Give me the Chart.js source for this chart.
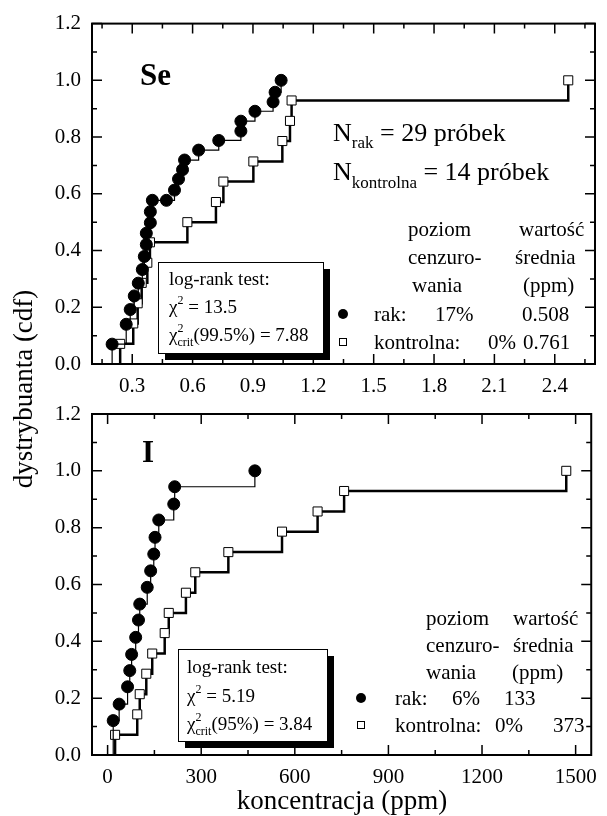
<!DOCTYPE html>
<html>
<head>
<meta charset="utf-8">
<script src="https://cdn.jsdelivr.net/npm/chart.js@4.4.0/dist/chart.umd.min.js"></script>
<style>
  html, body { margin: 0; padding: 0; background: #fff; }
  #wrap { position: relative; width: 607px; height: 816px; }
  canvas { position: absolute; left: 0; top: 0; }
</style>
</head>
<body>
<div id="wrap">
  <canvas id="se" width="607" height="816"></canvas>
  <canvas id="jod" width="607" height="816"></canvas>
</div>
<script>
// Se panel - rak (filled circles) and kontrolna (open squares)
const seRakX = [0.20, 0.27, 0.29, 0.31, 0.33, 0.35, 0.36, 0.37, 0.37, 0.39, 0.39, 0.40, 0.47, 0.51, 0.53, 0.55, 0.56, 0.63, 0.73, 0.84, 0.84, 0.91, 1.00, 1.01, 1.04];
const seRakY = [0.070, 0.140, 0.192, 0.240, 0.285, 0.333, 0.379, 0.421, 0.461, 0.498, 0.537, 0.577, 0.577, 0.613, 0.652, 0.685, 0.719, 0.754, 0.788, 0.821, 0.856, 0.891, 0.924, 0.958, 1.000];
const seKonX = [0.24, 0.305, 0.327, 0.347, 0.375, 0.388, 0.574, 0.716, 0.753, 0.902, 1.046, 1.084, 1.092, 2.467];
const seKonY = [0.071, 0.143, 0.214, 0.286, 0.357, 0.429, 0.500, 0.571, 0.643, 0.714, 0.786, 0.857, 0.929, 1.000];

// I panel
const iRakX = [18, 37, 64, 71, 77, 90, 99, 103, 127, 138, 148, 152, 164, 212, 215, 472];
const iRakY = [0.121, 0.179, 0.240, 0.297, 0.354, 0.414, 0.475, 0.531, 0.590, 0.648, 0.707, 0.766, 0.827, 0.883, 0.944, 1.000];
const iKonX = [24, 95, 103, 124, 143, 183, 196, 251, 281, 387, 559, 673, 758, 1470];
const iKonY = [0.071, 0.143, 0.214, 0.286, 0.357, 0.429, 0.500, 0.571, 0.643, 0.714, 0.786, 0.857, 0.929, 1.000];

// ticks
const seXTicks = [0.3, 0.6, 0.9, 1.2, 1.5, 1.8, 2.1, 2.4];
const seXMinor = [0.15, 0.45, 0.75, 1.05, 1.35, 1.65, 1.95, 2.25, 2.55];
const iXTicks = [0, 300, 600, 900, 1200, 1500];
const iXMinor = [150, 450, 750, 1050, 1350];
const yTicks = [0, 0.2, 0.4, 0.6, 0.8, 1.0, 1.2];
const yMinor = [0.1, 0.3, 0.5, 0.7, 0.9, 1.1];

const SERIF = '"Liberation Serif", "Times New Roman", serif';

// draw text pieces one after another (for sub/superscripts)
function rich(ctx, x, y, parts) {
  parts.forEach(p => {
    ctx.font = (p.bold ? 'bold ' : '') + p.size + 'px ' + SERIF;
    ctx.fillText(p.t, x, y + (p.dy || 0));
    if (!p.stay) x += ctx.measureText(p.t).width;
  });
}

function logRankBox(ctx, bx, by, bw, bh, tx, lines, chi, crit) {
  ctx.fillStyle = '#000';
  ctx.fillRect(bx + 7, by + 7, bw, bh);
  ctx.fillStyle = '#fff';
  ctx.fillRect(bx, by, bw, bh);
  ctx.strokeStyle = '#000';
  ctx.lineWidth = 1;
  ctx.strokeRect(bx + 0.5, by + 0.5, bw, bh);
  ctx.fillStyle = '#000';
  rich(ctx, tx, lines[0], [{t: 'log-rank test:', size: 19}]);
  rich(ctx, tx, lines[1], [{t: 'χ', size: 19}, {t: '2', size: 12, dy: -9}, {t: ' = ' + chi, size: 19}]);
  rich(ctx, tx, lines[2], [{t: 'χ', size: 19}, {t: '2', size: 12, dy: -9, stay: true}, {t: 'crit', size: 12, dy: 5}, {t: crit, size: 19}]);
}

function legendTable(ctx, rows, cols, vals) {
  ctx.font = '21px ' + SERIF;
  ctx.fillStyle = '#000';
  ctx.fillText('poziom', cols.a, rows[0]);
  ctx.fillText('wartość', cols.b, rows[0]);
  ctx.fillText('cenzuro-', cols.a, rows[1]);
  ctx.fillText('średnia', cols.b2, rows[1]);
  ctx.fillText('wania', cols.a2, rows[2]);
  ctx.fillText('(ppm)', cols.b3, rows[2]);
  ctx.fillText('rak:', cols.r, rows[3]);
  ctx.fillText(vals[0], cols.p1, rows[3]);
  ctx.fillText(vals[1], cols.v1, rows[3]);
  ctx.fillText('kontrolna:', cols.r, rows[4]);
  ctx.fillText(vals[2], cols.p2, rows[4]);
  ctx.fillText(vals[3], cols.v2, rows[4]);
  ctx.beginPath();
  ctx.arc(cols.m, rows[3] - 7, 5, 0, Math.PI * 2);
  ctx.fill();
  ctx.lineWidth = 1;
  ctx.strokeRect(cols.m - 3.5, rows[4] - 10.5, 7, 7);
}

const framePlugin = {
  id: 'frame',
  afterDraw(chart, args, o) {
    const {ctx, chartArea: a, scales: {x, y}} = chart;
    ctx.save();
    ctx.strokeStyle = '#000';
    ctx.lineWidth = 1.5;
    ctx.beginPath();
    const tx = (v, len) => {
      const px = x.getPixelForValue(v);
      ctx.moveTo(px, a.bottom); ctx.lineTo(px, a.bottom - len);
      ctx.moveTo(px, a.top); ctx.lineTo(px, a.top + len);
    };
    const ty = (v, len) => {
      const py = y.getPixelForValue(v);
      ctx.moveTo(a.left, py); ctx.lineTo(a.left + len, py);
      ctx.moveTo(a.right, py); ctx.lineTo(a.right - len, py);
    };
    o.xMajor.forEach(v => tx(v, 10));
    o.xMinor.forEach(v => tx(v, 5));
    o.yMajor.forEach(v => ty(v, 10));
    o.yMinor.forEach(v => ty(v, 5));
    ctx.stroke();
    ctx.lineWidth = 2;
    ctx.strokeRect(a.left, a.top, a.right - a.left, a.bottom - a.top);
    ctx.restore();
  }
};

const notesPlugin = {
  id: 'notes',
  afterDraw(chart, args, o) {
    const ctx = chart.ctx;
    ctx.save();
    ctx.fillStyle = '#000';
    ctx.textBaseline = 'alphabetic';
    ctx.textAlign = 'left';
    o.draw(ctx);
    ctx.restore();
  }
};

function steps(xs, ys) {
  return [{x: xs[0], y: 0}].concat(xs.map((v, i) => ({x: v, y: ys[i]})));
}

const tickFont = {family: SERIF, size: 21};

function panel(id, c) {
  return new Chart(document.getElementById(id), {
    type: 'scatter',
    data: {
      datasets: [
        {
          data: steps(c.rakX, c.rakY),
          showLine: true,
          stepped: true,
          borderColor: '#000',
          borderWidth: 1.2,
          pointStyle: 'circle',
          pointRadius: ctx => ctx.dataIndex === 0 ? 0 : 6,
          pointBackgroundColor: '#000',
          pointBorderColor: '#000',
          pointBorderWidth: 1
        },
        {
          data: steps(c.konX, c.konY),
          showLine: true,
          stepped: true,
          borderColor: '#000',
          borderWidth: 2.5,
          pointStyle: 'rect',
          pointRadius: ctx => ctx.dataIndex === 0 ? 0 : 6.4,
          pointBackgroundColor: '#fff',
          pointBorderColor: '#000',
          pointBorderWidth: 1
        }
      ]
    },
    options: {
      responsive: false,
      animation: false,
      events: [],
      layout: {padding: c.pad},
      plugins: {
        legend: {display: false},
        tooltip: {enabled: false},
        frame: {xMajor: c.xTicks, xMinor: c.xMinor, yMajor: yTicks, yMinor: yMinor},
        notes: {draw: c.notes}
      },
      scales: {
        x: {
          type: 'linear',
          min: c.xMin,
          max: c.xMax,
          grid: {display: false, drawTicks: false},
          border: {display: false},
          ticks: {font: tickFont, color: '#000', padding: 10, callback: c.fmtX},
          afterBuildTicks: s => { s.ticks = c.xTicks.map(v => ({value: v})); },
          afterFit: s => { s.height = 30; }
        },
        y: {
          min: 0,
          max: 1.2,
          grid: {display: false, drawTicks: false},
          border: {display: false},
          ticks: {font: tickFont, color: '#000', padding: 11, callback: v => v.toFixed(1)},
          afterBuildTicks: s => { s.ticks = yTicks.map(v => ({value: v})); },
          afterFit: s => { s.width = 50; }
        }
      }
    },
    plugins: [framePlugin, notesPlugin]
  });
}

// top panel: Se
panel('se', {
  rakX: seRakX, rakY: seRakY, konX: seKonX, konY: seKonY,
  xMin: 0.1, xMax: 2.6, xTicks: seXTicks, xMinor: seXMinor,
  fmtX: v => v.toFixed(1),
  pad: {left: 42, right: 12, top: 23, bottom: 422},
  notes: ctx => {
    rich(ctx, 140, 85, [{t: 'Se', size: 31, bold: true}]);
    rich(ctx, 333, 141, [{t: 'N', size: 26}, {t: 'rak', size: 17, dy: 7}, {t: ' = 29 próbek', size: 26}]);
    rich(ctx, 333, 180, [{t: 'N', size: 26}, {t: 'kontrolna', size: 17, dy: 8}, {t: ' = 14 próbek', size: 26}]);
    legendTable(ctx, [236, 264, 292, 321, 349],
      {a: 408, a2: 412, b: 519, b2: 515, b3: 523, r: 374, p1: 435, v1: 522, p2: 488, v2: 523, m: 343},
      ['17%', '0.508', '0%', '0.761']);
    logRankBox(ctx, 158, 262, 165, 91, 169, [285, 313, 341], '13.5', '(99.5%) = 7.88');
  }
});

// bottom panel: I
panel('jod', {
  rakX: iRakX, rakY: iRakY, konX: iKonX, konY: iKonY,
  xMin: -50, xMax: 1550, xTicks: iXTicks, xMinor: iXMinor,
  fmtX: v => String(v),
  pad: {left: 42, right: 12, top: 414, bottom: 31},
  notes: ctx => {
    rich(ctx, 142, 462, [{t: 'I', size: 31, bold: true}]);
    legendTable(ctx, [625, 652, 679, 705, 732],
      {a: 426, a2: 426, b: 513, b2: 513, b3: 512, r: 395, p1: 452, v1: 504, p2: 495, v2: 553, m: 361},
      ['6%', '133', '0%', '373']);
    logRankBox(ctx, 178, 649, 149, 92, 187, [673, 702, 730], '5.19', '(95%) = 3.84');
    // axis titles
    ctx.font = '27px ' + SERIF;
    ctx.textAlign = 'center';
    ctx.textBaseline = 'middle';
    ctx.fillText('koncentracja (ppm)', 342, 802);
    ctx.translate(25, 389);
    ctx.rotate(-Math.PI / 2);
    ctx.fillText('dystrybuanta (cdf)', 0, 0);
  }
});
</script>
</body>
</html>
